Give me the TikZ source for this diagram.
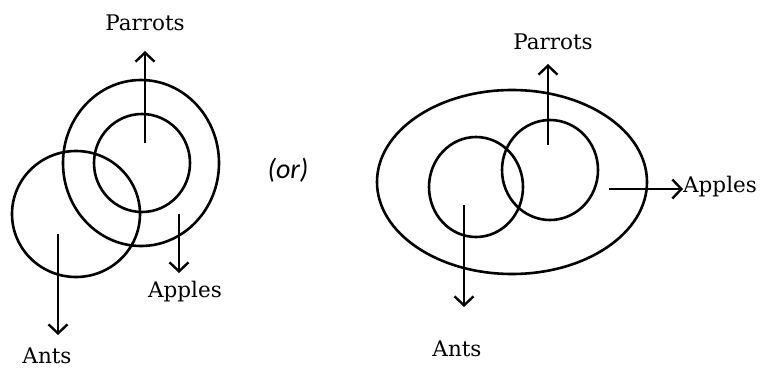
\documentclass[tikz,border=0pt]{standalone}
\usepackage{fontspec}
\setmainfont{DejaVu Serif}
\newfontfamily\orfont{Carlito}
\usetikzlibrary{arrows.meta}
\begin{document}
\begin{tikzpicture}[x=1pt,y=-1pt,
  shape line/.style={line width=2.6pt},
  pointer/.style={line width=2.4pt,-{Straight Barb[length=9pt,width=19pt,line width=2.4pt]}},
  lbl/.style={font=\fontsize{21.5}{24}\selectfont,inner sep=0pt}]
\useasboundingbox (0,0) rectangle (765,372);
% left diagram
\draw[shape line] (141,163) ellipse [x radius=78, y radius=83];
\draw[shape line] (142,163) ellipse [x radius=48, y radius=49];
\draw[shape line] (76,214) ellipse [x radius=64, y radius=63];
\node[lbl] (parL) at (145,23) {Parrots};
\node[lbl] (appL) at (185,292) {Apples};
\node[lbl] (antL) at (47,356) {Ants};
\coordinate (parLs) at (145,143);
\coordinate (parLe) at (145,51);
\coordinate (appLs) at (179,214);
\coordinate (appLe) at (179,273);
\coordinate (antLs) at (58,234);
\coordinate (antLe) at (58,335);
\draw[pointer] (parLs) -- (parLe);
\draw[pointer] (appLs) -- (appLe);
\draw[pointer] (antLs) -- (antLe);
% or
\node[font=\orfont\itshape\fontsize{28}{30}\selectfont,inner sep=0pt] (or) at (288,170) {(or)};
% right diagram
\draw[shape line] (512,182) ellipse [x radius=135, y radius=92];
\draw[shape line] (476,187) ellipse [x radius=47, y radius=50];
\draw[shape line] (550,170) ellipse [x radius=48, y radius=50];
\node[lbl] (parR) at (553,42) {Parrots};
\node[lbl,anchor=west] (appR) at (683,187) {Apples};
\node[lbl] (antR) at (457,349) {Ants};
\coordinate (parRs) at (548,145);
\coordinate (parRe) at (548,64);
\coordinate (appRs) at (609,189);
\coordinate (appRe) at (683,189);
\coordinate (antRs) at (464,205);
\coordinate (antRe) at (464,307);
\draw[pointer] (parRs) -- (parRe);
\draw[pointer] (appRs) -- (appRe);
\draw[pointer] (antRs) -- (antRe);
\end{tikzpicture}
\end{document}
